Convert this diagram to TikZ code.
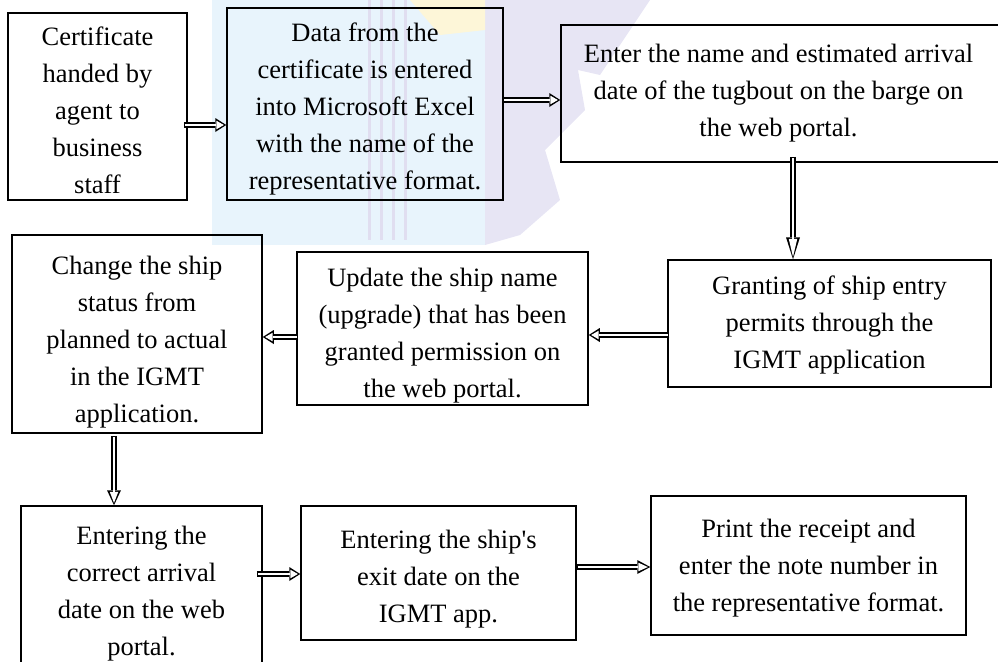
\documentclass[tikz,border=0pt]{standalone}
\usepackage{fontspec}
\setmainfont{Liberation Serif}[Ligatures=TeXOff]
\usetikzlibrary{arrows.meta,calc}
\definecolor{wmblue}{HTML}{E8F4FC}
\definecolor{wmlav}{HTML}{E7E5F4}
\definecolor{wmyel}{HTML}{FDF6D8}
\definecolor{wmstripe}{HTML}{E0DEF0}
\begin{document}
\begin{tikzpicture}[x=1pt,y=-1pt,
  box/.style={draw, line width=1.5pt, inner sep=0pt},
  txt/.style={inner sep=0pt, align=center, font=\fontsize{26.5}{37}\selectfont},
  hol/.style 2 args={line width=5.5pt,
    -{Triangle[length=#1pt,width=14pt,line width=0pt]},
    postaction={draw=white, line width=2.4pt, shorten >=2.4pt, shorten <=1.4pt,
      -{Triangle[length=#2pt,width=8.5pt,line width=0pt]}}},
  hol/.default={11}{7.4}
]
\useasboundingbox (0,0) rectangle (998,661);
% faint watermark
\fill[wmblue] (212,0) rectangle (485,245);
\fill[wmlav] (485,0) -- (650,0) -- (600,75) -- (578,70) -- (585,110) -- (545,150)
  -- (560,200) -- (520,235) -- (485,245) -- cycle;
\fill[wmyel] (410,0) -- (485,0) -- (485,30) -- (440,35) -- cycle;
\foreach \sx in {368,380,392,404} \fill[wmstripe] (\sx,0) rectangle ++(3,240);
% boxes
\node[box, minimum width=179pt, minimum height=187pt] (b1) at (97.5,106.5) {};
\node[txt] (t1) at ([yshift=-4pt]b1.center)
  {Certificate\\handed by\\agent to\\business\\staff};
\node[box, minimum width=276pt, minimum height=192pt] (b2) at (365,104) {};
\node[txt] (t2) at ([yshift=-5pt]b2.center)
  {Data from the\\certificate is entered\\into Microsoft Excel\\with the name of the\\representative format.};
\node[box, minimum width=439pt, minimum height=137pt] (b3) at (780.5,93.5) {};
\node[txt] (t3) at ([xshift=-2pt]b3.center)
  {Enter the name and estimated arrival\\date of the tugbout on the barge on\\the web portal.};
\node[box, minimum width=323pt, minimum height=127pt] (b4) at (829.5,323.5) {};
\node[txt] (t4) at ([yshift=-1pt]b4.center)
  {Granting of ship entry\\permits through the\\IGMT application};
\node[box, minimum width=291pt, minimum height=153pt] (b5) at (442.5,328.5) {};
\node[txt] (t5) at ([yshift=-7pt]b5.center)
  {Update the ship name\\(upgrade) that has been\\granted permission on\\the web portal.};
\node[box, minimum width=250pt, minimum height=198pt] (b6) at (137,334) {};
\node[txt] (t6) at ([yshift=-8pt]b6.center)
  {Change the ship\\status from\\planned to actual\\in the IGMT\\application.};
\node[box, minimum width=241pt, minimum height=182pt] (b7) at (141.5,597) {};
\node[txt] (t7) at ([yshift=3pt]b7.center)
  {Entering the\\correct arrival\\date on the web\\portal.};
\node[box, minimum width=275pt, minimum height=134pt] (b8) at (438.5,573) {};
\node[txt] (t8) at ([yshift=-6pt]b8.center)
  {Entering the ship's\\exit date on the\\IGMT app.};
\node[box, minimum width=315pt, minimum height=139pt] (b9) at (808.5,565.5) {};
\node[txt] (t9) at ([yshift=-3pt]b9.center)
  {Print the receipt and\\enter the note number in\\the representative format.};
% connectors
\draw[hol] ([xshift=-4pt]b1.east |- 0,125) -- (b2.west |- 0,125);
\draw[hol] ([xshift=-1pt]b2.east |- 0,100) -- (b3.west |- 0,100);
\draw[hol={22}{18}] ([yshift=6pt]b3.south -| 793,0) -- (b4.north -| 793,0);
\draw[hol] ([xshift=2pt]b4.west |- 0,335) -- (b5.east |- 0,335);
\draw[hol] ([xshift=2pt]b5.west |- 0,337) -- (b6.east |- 0,337);
\draw[hol={15}{11}] ([yshift=-2pt]b6.south -| 114,0) -- (b7.north -| 114,0);
\draw[hol] ([xshift=-6pt]b7.east |- 0,574) -- (b8.west |- 0,574);
\draw[hol={13}{9.4}] (b8.east |- 0,567) -- (b9.west |- 0,567);
\end{tikzpicture}
\end{document}
